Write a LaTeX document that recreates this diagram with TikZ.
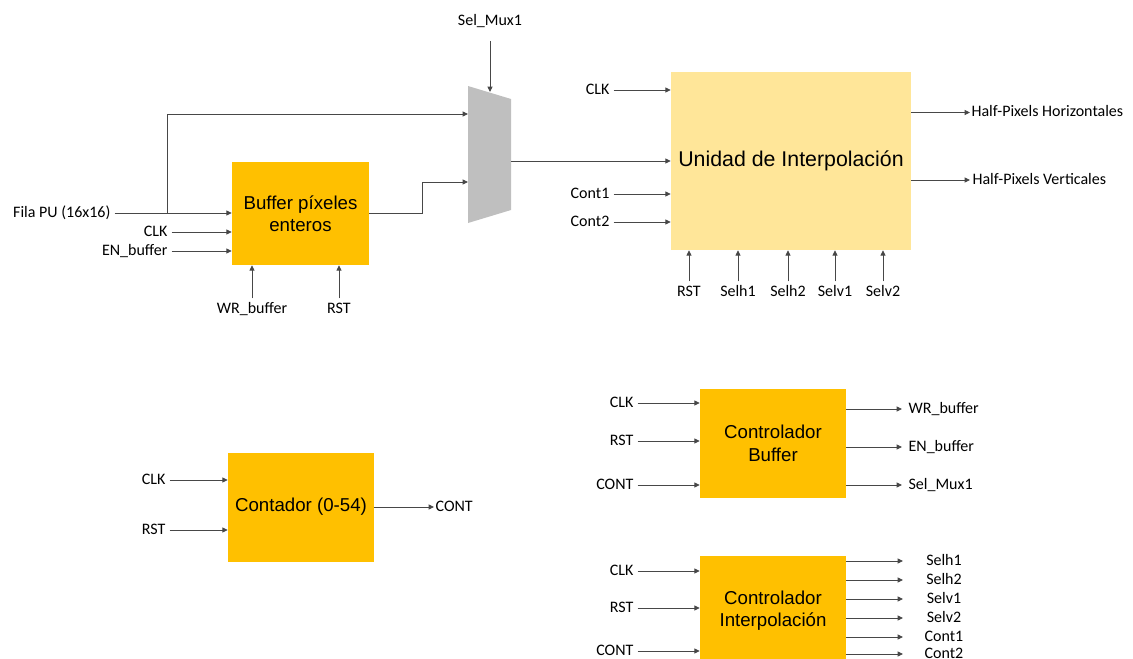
\documentclass[tikz,border=0pt]{standalone}
\usepackage{fontspec}
\setmainfont{Liberation Sans}
\newfontfamily\lblfont{Carlito}
\usetikzlibrary{arrows.meta}
\definecolor{blkorange}{HTML}{FFC000}
\definecolor{blklight}{HTML}{FFE699}
\definecolor{muxgray}{HTML}{BFBFBF}
\definecolor{wiregray}{HTML}{474747}

\begin{document}
\begin{tikzpicture}[x=0.75pt, y=-0.75pt,
    blk/.style={fill=blkorange, inner sep=0pt, align=center, font=\fontsize{14}{16.8}\selectfont},
    lbl/.style={font=\lblfont\fontsize{12}{14}\selectfont, inner sep=1pt, text height=1.5ex, text depth=.3ex},
    sig/.style={draw=wiregray, line width=0.6pt, -{Triangle[length=4pt,width=3.8pt]}},
    sigin/.style={sig, shorten <=2pt},
  ]
  \useasboundingbox (0,0) rectangle (1133,658);

  \node[blk, minimum width=102.75pt, minimum height=77.25pt] (buf) at (300.5,213.5) {Buffer píxeles\\enteros};
  \node[blk, fill=blklight, minimum width=180pt, minimum height=133.5pt, font=\fontsize{16}{19}\selectfont] (uni) at (791,161) {Unidad de Interpolación};
  \node[blk, minimum width=109.5pt, minimum height=81.75pt] (cnt) at (301,507) {Contador (0-54)};
  \node[blk, minimum width=109.5pt, minimum height=81.75pt] (cbuf) at (773,443.5) {Controlador\\Buffer};
  \node[blk, minimum width=109.5pt, minimum height=81.75pt] (cint) at (773,610.5) {Controlador\\Interpolación};

  \fill[muxgray] (468,86) -- (511,99) -- (511,210) -- (468,223) -- cycle;
  \coordinate (muxin1) at (468,114);
  \coordinate (muxin2) at (468,182);
  \coordinate (muxout) at (511,161);
  \coordinate (muxsel) at (490,92);

  \node[lbl, anchor=east] (fila) at (112,213) {Fila PU (16x16)};
  \node[lbl, anchor=east] (bclk) at (169,232) {CLK};
  \node[lbl, anchor=east] (benb) at (169,251) {EN\_buffer};
  \draw[sigin] (fila.east) -- (fila.east -| buf.west);
  \draw[sigin] (bclk.east) -- (bclk.east -| buf.west);
  \draw[sigin] (benb.east) -- (benb.east -| buf.west);
  \coordinate (fork) at (167,213);
  \draw[sig] (fork) |- (muxin1);
  \draw[sig] (buf.east) -- ++(53,0) |- (muxin2);
  \draw[sig] (muxout) -- (muxout -| uni.west);

  \node[lbl] (selmux) at (490,21) {Sel\_Mux1};
  \draw[sig] ([yshift=-9pt]selmux.south) -- (muxsel);

  \node[lbl] (bwr) at (252,309) {WR\_buffer};
  \node[lbl] (brst) at (339,309) {RST};
  \draw[sigin] (bwr.north) -- (bwr.north |- buf.south);
  \draw[sigin] (brst.north) -- (brst.north |- buf.south);

  \node[lbl, anchor=east] (uclk) at (611,90) {CLK};
  \node[lbl, anchor=east] (uc1) at (611,194) {Cont1};
  \node[lbl, anchor=east] (uc2) at (611,222) {Cont2};
  \draw[sigin] (uclk.east) -- (uclk.east -| uni.west);
  \draw[sigin] (uc1.east) -- (uc1.east -| uni.west);
  \draw[sigin] (uc2.east) -- (uc2.east -| uni.west);
  \node[lbl, anchor=west] (uhh) at (970,112.5) {Half-Pixels Horizontales};
  \node[lbl, anchor=west] (uhv) at (971,180) {Half-Pixels Verticales};
  \draw[sig] (uhh -| uni.east) -- (uhh.west);
  \draw[sig] (uhv -| uni.east) -- (uhh.west |- uhv);
  \foreach \nm/\xx [count=\i] in {RST/689, Selh1/738, Selh2/788, Selv1/835, Selv2/883} {
    \node[lbl] (ub\i) at (\xx,292) {\nm};
    \draw[sigin] (ub\i.north) -- (ub\i.north |- uni.south);
  }

  \node[lbl, anchor=east] (kclk) at (167,480) {CLK};
  \node[lbl, anchor=east] (krst) at (167,530) {RST};
  \draw[sigin] (kclk.east) -- (kclk.east -| cnt.west);
  \draw[sigin] (krst.east) -- (krst.east -| cnt.west);
  \node[lbl, anchor=west] (kcnt) at (434,507) {CONT};
  \draw[sig] (kcnt -| cnt.east) -- (kcnt.west);

  \coordinate (cbtip) at (902,0);
  \foreach \nm/\yy [count=\i] in {CLK/403, RST/441, CONT/485} {
    \node[lbl, anchor=east] (cbi\i) at (635,\yy) {\nm};
    \draw[sigin] (cbi\i.east) -- (cbi\i.east -| cbuf.west);
  }
  \foreach \nm/\yy [count=\i] in {WR\_buffer/409, EN\_buffer/447, Sel\_Mux1/485} {
    \node[lbl, anchor=west] (cbo\i) at (907,\yy) {\nm};
    \draw[sig] (cbo\i -| cbuf.east) -- (cbo\i -| cbtip);
  }

  \coordinate (citip) at (903,0);
  \foreach \nm/\yy [count=\i] in {CLK/571, RST/608, CONT/651} {
    \node[lbl, anchor=east] (cii\i) at (635,\yy) {\nm};
    \draw[sigin] (cii\i.east) -- (cii\i.east -| cint.west);
  }
  \foreach \nm/\yy [count=\i] in {Selh1/561, Selh2/580, Selv1/599, Selv2/618, Cont1/637, Cont2/654} {
    \node[lbl] (cio\i) at (944,\yy) {\nm};
    \draw[sig] (cio\i -| cint.east) -- (cio\i -| citip);
  }
\end{tikzpicture}
\end{document}
